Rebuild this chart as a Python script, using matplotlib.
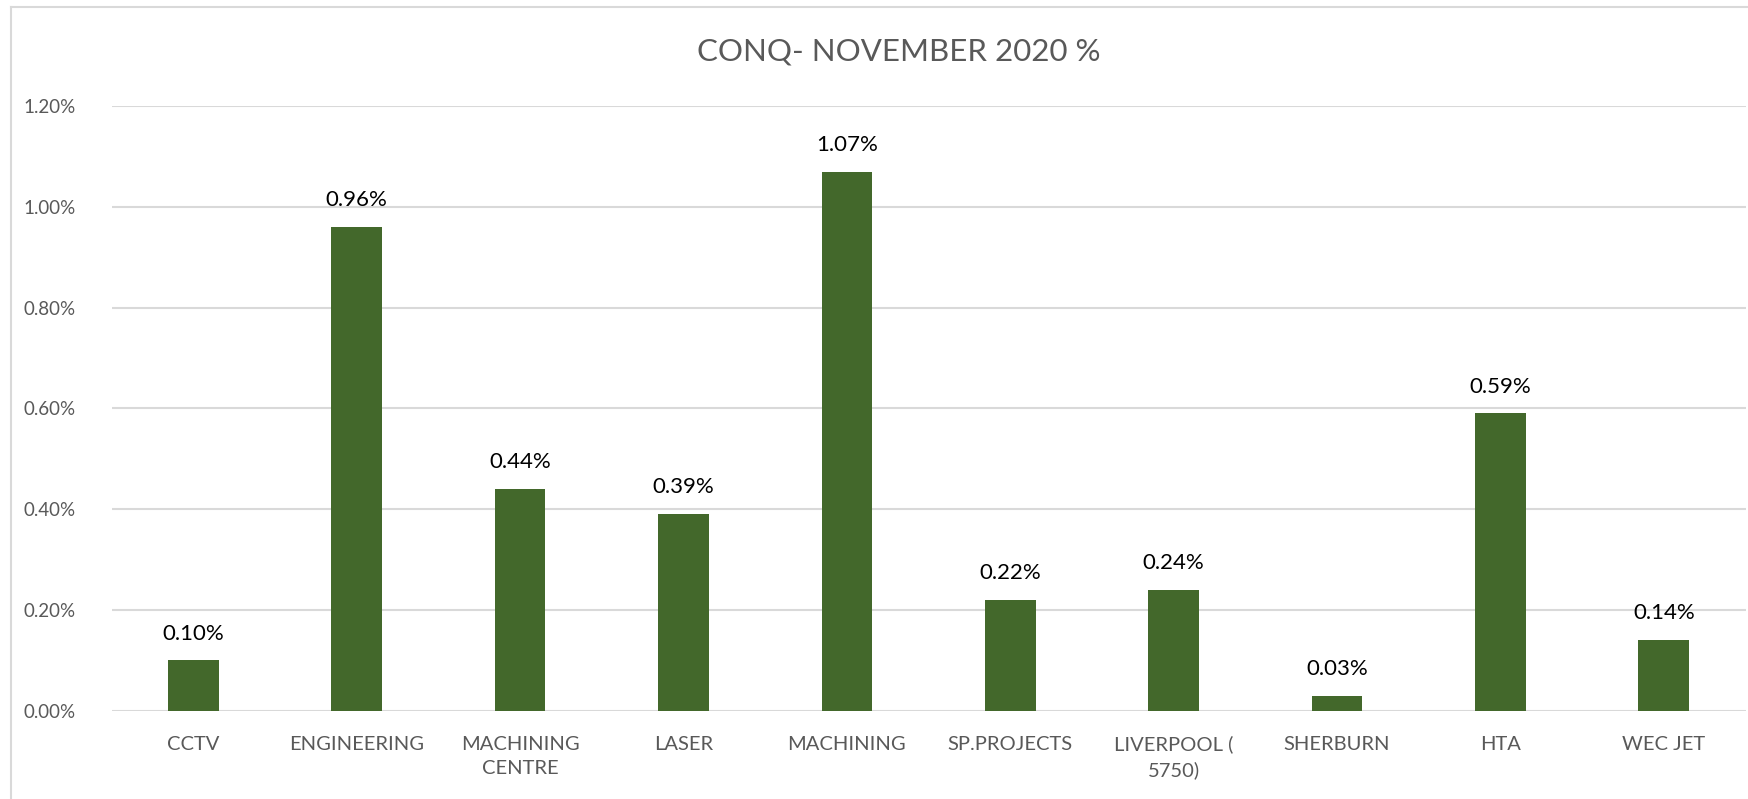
import matplotlib.pyplot as plt
import matplotlib.ticker as mtick
from matplotlib.lines import Line2D

# department names and their CONQ share for November 2020 (in %)
departments = ["CCTV", "ENGINEERING", "MACHINING\nCENTRE", "LASER", "MACHINING",
               "SP.PROJECTS", "LIVERPOOL (\n5750)", "SHERBURN", "HTA", "WEC JET"]
conq_pct = [0.10, 0.96, 0.44, 0.39, 1.07, 0.22, 0.24, 0.03, 0.59, 0.14]
y_ticks = [0.0, 0.2, 0.4, 0.6, 0.8, 1.0, 1.2]

plt.rcParams['font.family'] = ['Lato', 'DejaVu Sans']

fig = plt.figure(figsize=(17.49, 7.99), dpi=100)
ax = fig.add_axes([0.0638, 0.1106, 0.9342, 0.7567])

x = range(len(departments))
bars = ax.bar(x, conq_pct, width=0.31, color='#43682B', zorder=3)

# value labels above the bars
for xi, v in zip(x, conq_pct):
    ax.annotate("%.2f%%" % v, (xi, v), xytext=(0, 12), textcoords='offset points',
                ha='center', va='bottom', fontsize=16, color='black')

ax.set_xlim(-0.5, len(departments) - 0.5)
ax.set_ylim(0, 1.2)
ax.set_yticks(y_ticks)
ax.yaxis.set_major_formatter(mtick.FuncFormatter(lambda v, p: "%.2f%%" % v))
ax.set_xticks(list(x))
ax.set_xticklabels(departments, linespacing=1.55)
ax.tick_params(axis='both', length=0, colors='#595959')
ax.tick_params(axis='x', pad=18, labelsize=14.5)
ax.tick_params(axis='y', pad=26, labelsize=13.5)
ax.grid(axis='y', color='#D9D9D9', linewidth=1.5, zorder=0)
for s in ax.spines.values():
    s.set_visible(False)

fig.text(0.514, 0.935, "CONQ- NOVEMBER 2020 %", ha='center', va='center',
         fontsize=22.5, color='#595959')

# light chart border (top and left edges visible in the original)
fig.add_artist(Line2D([11 / 1749, 11 / 1749], [0, 1 - 7 / 799], transform=fig.transFigure,
                      color='#D9D9D9', linewidth=1.5))
fig.add_artist(Line2D([11 / 1749, 1], [1 - 7 / 799, 1 - 7 / 799], transform=fig.transFigure,
                      color='#D9D9D9', linewidth=1.5))

fig.savefig("out.png", dpi=100)
